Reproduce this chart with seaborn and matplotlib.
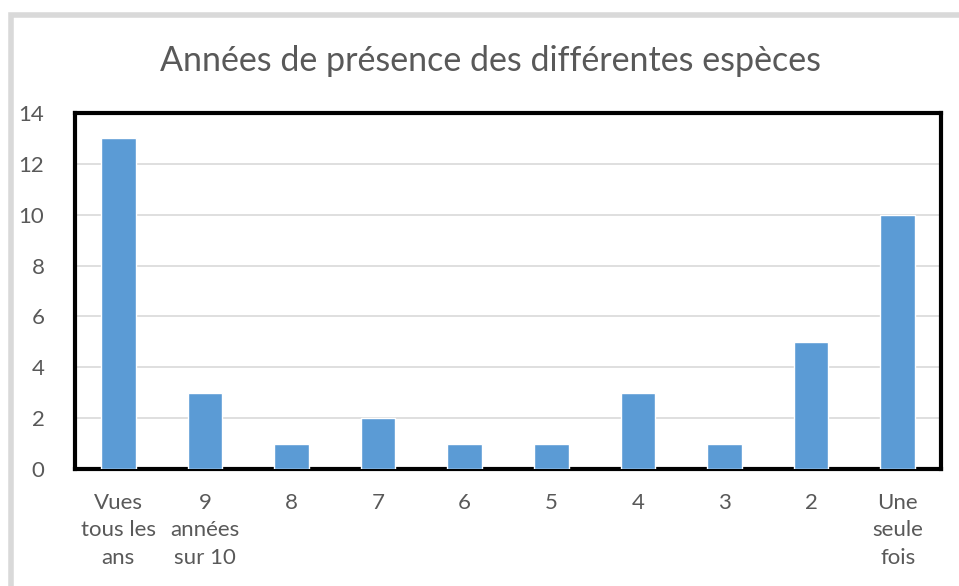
import matplotlib
matplotlib.use("Agg")
import matplotlib.pyplot as plt
import pandas as pd
import seaborn as sns
from matplotlib.patches import Rectangle

# données
categories = ["Vues\ntous les\nans", "9\nannées\nsur 10", "8", "7", "6", "5", "4", "3", "2",
              "Une\nseule\nfois"]
valeurs = [13, 3, 1, 2, 1, 1, 3, 1, 5, 10]
titre = "Années de présence des différentes espèces"

df = pd.DataFrame({"cat": categories, "n": valeurs})

sns.set_style("white")
plt.rcParams["font.family"] = ["Lato", "DejaVu Sans"]

fig = plt.figure(figsize=(9.59, 5.86), dpi=100)

# cadre gris autour du graphique
fig.patches.append(Rectangle((10.5 / 959, -0.1), 1.2, 1 - 14.5 / 586 + 0.1,
                             transform=fig.transFigure, fill=False,
                             edgecolor="#D9D9D9", linewidth=4, zorder=0))

ax = fig.add_axes([75 / 959, 1 - 469 / 586, (941 - 75) / 959, (469 - 113) / 586])
sns.barplot(data=df, x="cat", y="n", color="#5B9BD5", width=0.4,
            saturation=1, ax=ax, zorder=3)

ax.set_ylim(0, 14)
ax.set_yticks(range(0, 15, 2))
ax.yaxis.grid(True, color="#D9D9D9", linewidth=1.2, zorder=0)
ax.set_axisbelow(True)
ax.set_xlabel("")
ax.set_ylabel("")
for s in ax.spines.values():
    s.set_visible(True)
    s.set_color("black")
    s.set_linewidth(3)
ax.tick_params(axis="y", length=0, pad=22, labelsize=16, labelcolor="#595959")
ax.tick_params(axis="x", length=0, pad=17, labelsize=16, labelcolor="#595959")
for lab in ax.get_xticklabels():
    lab.set_linespacing(1.48)
    lab.set_verticalalignment("top")

fig.text(490 / 959, 1 - 61 / 586, titre, ha="center", va="center",
         fontsize=24.5, color="#595959")

fig.savefig("out.png", dpi=100)
